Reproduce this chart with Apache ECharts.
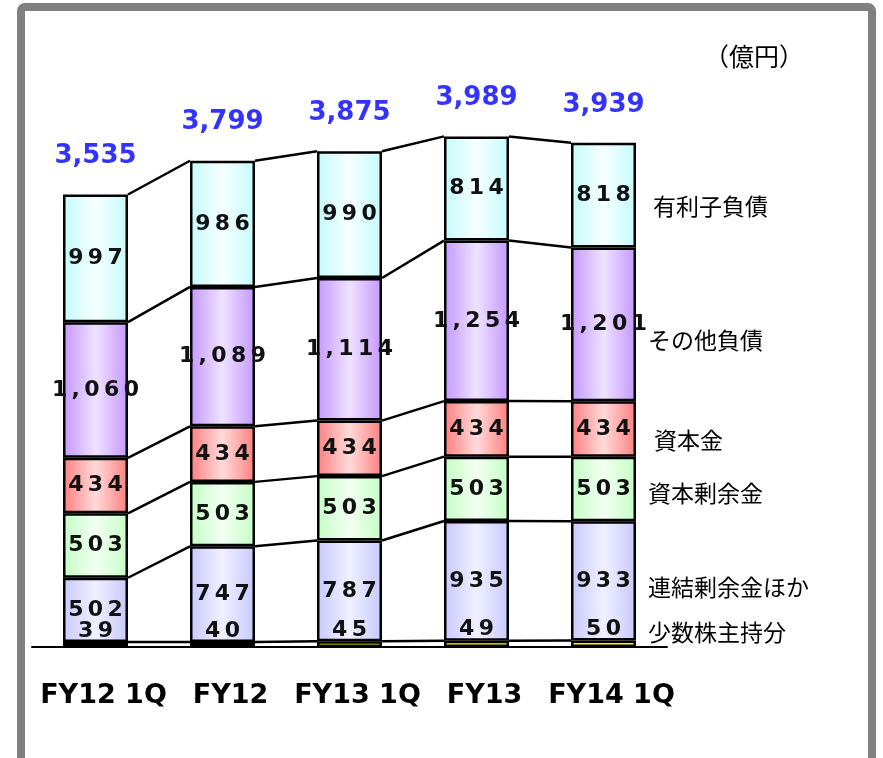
<!DOCTYPE html>
<html>
<head>
<meta charset="utf-8">
<script src="https://cdn.jsdelivr.net/npm/echarts@6/dist/echarts.min.js"></script>
<style>
  html, body { margin: 0; padding: 0; background: #fff; }
  #chart { width: 883px; height: 758px; }
</style>
</head>
<body>
<div id="chart"></div>
<script>
// 期
const categories = ['FY12 1Q', 'FY12', 'FY13 1Q', 'FY13', 'FY14 1Q'];
// 億円 (下から積み上げ)
const minority = [39, 40, 45, 49, 50];            // 少数株主持分
const retained = [502, 747, 787, 935, 933];       // 連結剰余金ほか
const capitalSurplus = [503, 503, 503, 503, 503]; // 資本剰余金
const capital = [434, 434, 434, 434, 434];        // 資本金
const otherLiab = [1060, 1089, 1114, 1254, 1201]; // その他負債
const debt = [997, 986, 990, 814, 818];           // 有利子負債
const totals = [3535, 3799, 3875, 3989, 3939];
const seriesNames = ['少数株主持分', '連結剰余金ほか', '資本剰余金', '資本金', 'その他負債', '有利子負債'];

const BAR_W = 65;
const layers = [minority, retained, capitalSurplus, capital, otherLiab, debt];

const chart = echarts.init(document.getElementById('chart'));

// 数字の字間を空ける
function spaced (v) {
  return v.toLocaleString('en-US').split('').join('\u2009');
}

function grad (edge, mid) {
  return new echarts.graphic.LinearGradient(0, 0, 1, 0, [
    { offset: 0, color: edge },
    { offset: 0.5, color: mid },
    { offset: 1, color: edge }
  ]);
}

const segLabel = {
  show: true,
  position: 'inside',
  fontFamily: 'DejaVu Sans',
  fontWeight: 'bold',
  fontSize: 22,
  color: '#111',
  formatter: p => spaced(p.value)
};

const fills = [
  null,
  grad('#c8c8ff', '#f0f0ff'),
  grad('#c4ffc4', '#f2fff2'),
  grad('#ff7f7f', '#ffdada'),
  grad('#c597ff', '#efe2ff'),
  grad('#c4fbfb', '#f6ffff')
];

const barSeries = layers.map((arr, k) => ({
  name: seriesNames[k],
  type: 'bar',
  stack: 'bs',
  barWidth: BAR_W,
  data: arr,
  z: k === 0 ? 3 : 2,
  itemStyle: {
    color: k === 0 ? (p => p.dataIndex < 2 ? '#222' : '#ffff00') : fills[k],
    borderColor: '#000',
    borderWidth: 2.5
  },
  label: k === 0
    ? Object.assign({}, segLabel, { position: 'top', distance: 0 })
    : segLabel
}));

// 棒の間をつなぐ線
const connector = {
  type: 'custom',
  z: 4,
  silent: true,
  data: categories.slice(0, categories.length - 1).map((c, i) => [i, 0]),
  encode: { x: 0, y: 1 },
  renderItem: function (params, api) {
    const i = params.dataIndex;
    let a = 0, b = 0;
    const children = [];
    layers.forEach(arr => {
      a += arr[i];
      b += arr[i + 1];
      const p1 = api.coord([i, a]);
      const p2 = api.coord([i + 1, b]);
      children.push({
        type: 'line',
        shape: { x1: p1[0] + BAR_W / 2, y1: p1[1], x2: p2[0] - BAR_W / 2, y2: p2[1] },
        style: { stroke: '#000', lineWidth: 2.5 }
      });
    });
    return { type: 'group', children: children };
  }
};

const totalSeries = {
  type: 'scatter',
  symbolSize: 0,
  data: totals,
  z: 5,
  label: {
    show: true,
    position: 'top',
    distance: 25,
    fontFamily: 'DejaVu Sans',
    fontWeight: 'bold',
    fontSize: 26,
    color: '#0000ff',
    formatter: p => p.value.toLocaleString('en-US')
  }
};

const sideLabels = [
  { text: '有利子負債', x: 653, y: 206, size: 23 },
  { text: 'その他負債', x: 648, y: 340, size: 23 },
  { text: '資本金', x: 654, y: 440, size: 23 },
  { text: '資本剰余金', x: 648, y: 493, size: 23 },
  { text: '連結剰余金ほか', x: 648, y: 587, size: 23 },
  { text: '少数株主持分', x: 648, y: 632, size: 23 },
  { text: '（億円）', x: 704, y: 56, size: 25 }
];

const option = {
  animation: false,
  backgroundColor: '#fff',
  grid: { left: 32, width: 635, top: 71, bottom: 111 },
  xAxis: {
    type: 'category',
    data: categories,
    axisTick: { show: false },
    axisLine: { lineStyle: { color: '#000', width: 2 } },
    axisLabel: {
      interval: 0,
      hideOverlap: false,
      margin: 35,
      padding: [0, 0, 0, 16],
      fontFamily: 'DejaVu Sans',
      fontWeight: 'bold',
      fontSize: 27,
      color: '#000'
    }
  },
  yAxis: {
    type: 'value',
    min: 0,
    max: 4500,
    show: false,
    splitLine: { show: false }
  },
  graphic: [
    {
      type: 'rect',
      shape: { x: 21, y: 7, width: 851, height: 800, r: 4 },
      style: { fill: 'none', stroke: '#808080', lineWidth: 8 },
      silent: true,
      z: 0
    }
  ].concat(sideLabels.map(s => ({
    type: 'text',
    x: s.x,
    y: s.y,
    style: {
      text: s.text,
      fontFamily: 'Noto Sans CJK JP',
      fontSize: s.size,
      fill: '#000',
      verticalAlign: 'middle'
    },
    silent: true
  }))),
  series: barSeries.concat([connector, totalSeries])
};

chart.setOption(option);
</script>
</body>
</html>
